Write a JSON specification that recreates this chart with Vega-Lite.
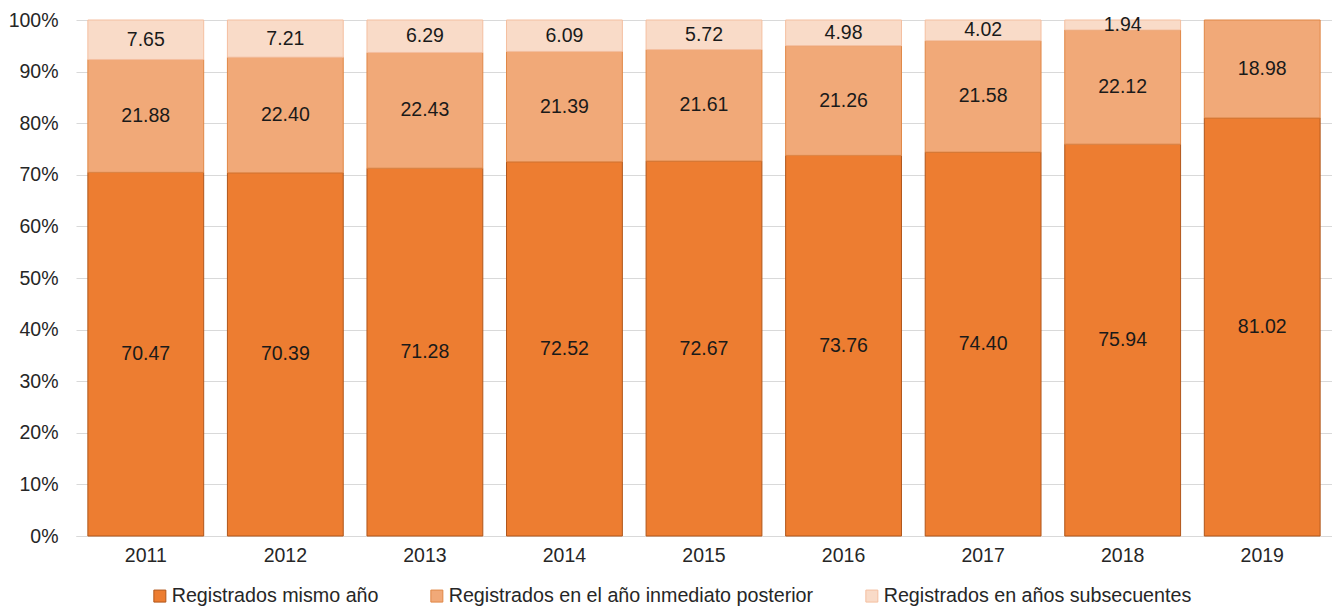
{
  "$schema": "https://vega.github.io/schema/vega-lite/v6.json",
  "width": 1256,
  "height": 516,
  "autosize": {"type": "none"},
  "padding": {"left": 76, "top": 20, "right": 0, "bottom": 75},
  "background": "white",
  "config": {
    "view": {"stroke": null},
    "font": "Liberation Sans",
    "axis": {"labelFont": "Liberation Sans", "labelFontSize": 19.5, "labelColor": "#262626"},
    "legend": {"labelFont": "Liberation Sans", "labelFontSize": 19.7, "labelColor": "#262626", "labelLimit": 0}
  },
  "data": {
    "values": [
      {"anio": "2011", "serie": "Registrados mismo año", "orden": 1, "valor": 70.47},
      {"anio": "2011", "serie": "Registrados en el año inmediato posterior", "orden": 2, "valor": 21.88},
      {"anio": "2011", "serie": "Registrados en años subsecuentes", "orden": 3, "valor": 7.65},
      {"anio": "2012", "serie": "Registrados mismo año", "orden": 1, "valor": 70.39},
      {"anio": "2012", "serie": "Registrados en el año inmediato posterior", "orden": 2, "valor": 22.40},
      {"anio": "2012", "serie": "Registrados en años subsecuentes", "orden": 3, "valor": 7.21},
      {"anio": "2013", "serie": "Registrados mismo año", "orden": 1, "valor": 71.28},
      {"anio": "2013", "serie": "Registrados en el año inmediato posterior", "orden": 2, "valor": 22.43},
      {"anio": "2013", "serie": "Registrados en años subsecuentes", "orden": 3, "valor": 6.29},
      {"anio": "2014", "serie": "Registrados mismo año", "orden": 1, "valor": 72.52},
      {"anio": "2014", "serie": "Registrados en el año inmediato posterior", "orden": 2, "valor": 21.39},
      {"anio": "2014", "serie": "Registrados en años subsecuentes", "orden": 3, "valor": 6.09},
      {"anio": "2015", "serie": "Registrados mismo año", "orden": 1, "valor": 72.67},
      {"anio": "2015", "serie": "Registrados en el año inmediato posterior", "orden": 2, "valor": 21.61},
      {"anio": "2015", "serie": "Registrados en años subsecuentes", "orden": 3, "valor": 5.72},
      {"anio": "2016", "serie": "Registrados mismo año", "orden": 1, "valor": 73.76},
      {"anio": "2016", "serie": "Registrados en el año inmediato posterior", "orden": 2, "valor": 21.26},
      {"anio": "2016", "serie": "Registrados en años subsecuentes", "orden": 3, "valor": 4.98},
      {"anio": "2017", "serie": "Registrados mismo año", "orden": 1, "valor": 74.40},
      {"anio": "2017", "serie": "Registrados en el año inmediato posterior", "orden": 2, "valor": 21.58},
      {"anio": "2017", "serie": "Registrados en años subsecuentes", "orden": 3, "valor": 4.02},
      {"anio": "2018", "serie": "Registrados mismo año", "orden": 1, "valor": 75.94},
      {"anio": "2018", "serie": "Registrados en el año inmediato posterior", "orden": 2, "valor": 22.12},
      {"anio": "2018", "serie": "Registrados en años subsecuentes", "orden": 3, "valor": 1.94},
      {"anio": "2019", "serie": "Registrados mismo año", "orden": 1, "valor": 81.02},
      {"anio": "2019", "serie": "Registrados en el año inmediato posterior", "orden": 2, "valor": 18.98}
    ]
  },
  "encoding": {
    "x": {
      "field": "anio", "type": "ordinal", "title": null,
      "scale": {"paddingInner": 0.17, "paddingOuter": 0.085},
      "axis": {"labelAngle": 0, "ticks": false, "labelPadding": 10, "domainColor": "#D9D9D9", "grid": false}
    },
    "y": {
      "field": "valor", "type": "quantitative", "stack": "zero", "title": null,
      "scale": {"domain": [0, 100], "nice": false},
      "axis": {"values": [0, 10, 20, 30, 40, 50, 60, 70, 80, 90, 100], "labelExpr": "datum.value + '%'", "ticks": false, "domain": false, "gridColor": "#D9D9D9", "gridWidth": 1, "labelPadding": 18}
    },
    "order": {"field": "orden", "type": "quantitative"}
  },
  "layer": [
    {
      "mark": {"type": "bar", "strokeWidth": 1},
      "encoding": {
        "color": {
          "field": "serie", "type": "nominal",
          "scale": {"domain": ["Registrados mismo año", "Registrados en el año inmediato posterior", "Registrados en años subsecuentes"], "range": ["#ED7D31", "#F1A978", "#F9DBC8"]},
          "legend": {"title": null, "orient": "none", "direction": "horizontal", "legendX": 74, "legendY": 566, "symbolType": "square", "symbolSize": 144, "symbolStrokeWidth": 1, "labelOffset": 2, "columnPadding": 48, "labelLimit": 0}
        },
        "stroke": {
          "field": "serie", "type": "nominal",
          "scale": {"domain": ["Registrados mismo año", "Registrados en el año inmediato posterior", "Registrados en años subsecuentes"], "range": ["#B0561A", "#E08746", "#F4BFA0"]},
          "legend": {"title": null, "orient": "none", "direction": "horizontal", "legendX": 74, "legendY": 566, "symbolType": "square", "symbolSize": 144, "symbolStrokeWidth": 1, "labelOffset": 2, "columnPadding": 48, "labelLimit": 0}
        }
      }
    },
    {
      "mark": {"type": "text", "fontSize": 19.5, "color": "#1a1a1a", "baseline": "middle"},
      "encoding": {
        "y": {"field": "valor", "type": "quantitative", "stack": "zero", "bandPosition": 0.5},
        "text": {"field": "valor", "type": "quantitative", "format": ".2f"}
      }
    }
  ]
}
